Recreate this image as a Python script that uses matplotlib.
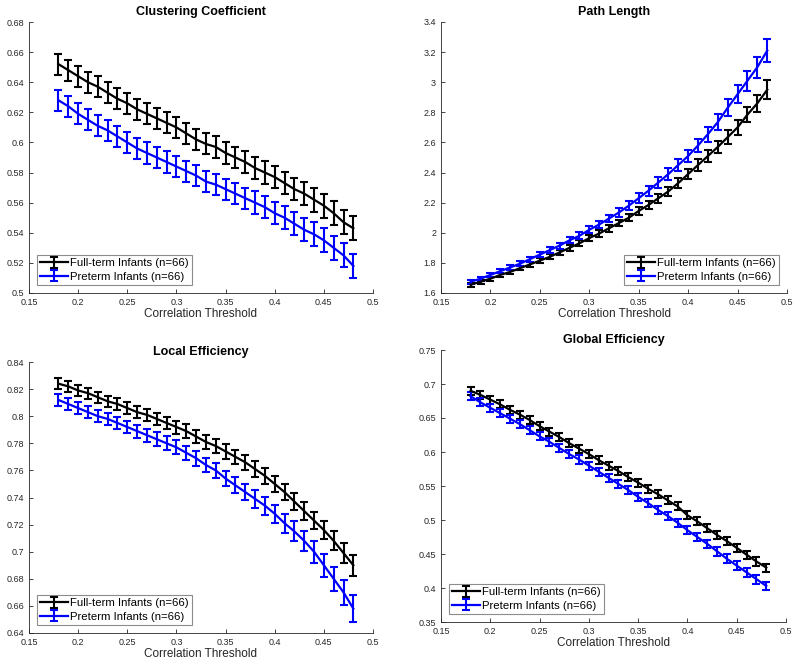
#!/usr/bin/env python3

import matplotlib
matplotlib.use("Agg")
import matplotlib.pyplot as plt
from matplotlib.ticker import FormatStrFormatter, MultipleLocator

plt.rcParams["font.family"] = ["Liberation Sans", "DejaVu Sans"]

thresholds = [round(0.18 + 0.01 * i, 2) for i in range(31)]

labels = ["Full-term Infants (n=66)", "Preterm Infants (n=66)"]

clust_full = [0.652, 0.648, 0.644, 0.640, 0.637, 0.633, 0.629, 0.626, 0.622, 0.619,
              0.616, 0.613, 0.610, 0.606, 0.602, 0.599, 0.597, 0.593, 0.590, 0.587,
              0.583, 0.580, 0.577, 0.573, 0.569, 0.566, 0.562, 0.558, 0.553, 0.547, 0.543]
clust_full_err = [0.007] * 20 + [0.0075] * 6 + [0.008] * 5
clust_pre = [0.628, 0.624, 0.619, 0.615, 0.611, 0.608, 0.604, 0.600, 0.596, 0.593,
             0.590, 0.587, 0.584, 0.581, 0.578, 0.574, 0.572, 0.569, 0.566, 0.563,
             0.560, 0.557, 0.553, 0.550, 0.546, 0.542, 0.539, 0.535, 0.530, 0.525, 0.518]
clust_pre_err = [0.007] * 20 + [0.0075] * 6 + [0.008] * 5

path_full = [1.655, 1.675, 1.695, 1.72, 1.74, 1.765, 1.79, 1.815, 1.84, 1.87,
             1.90, 1.93, 1.965, 1.995, 2.03, 2.065, 2.10, 2.145, 2.185, 2.23,
             2.275, 2.33, 2.39, 2.45, 2.51, 2.57, 2.635, 2.70, 2.785, 2.86, 2.95]
path_full_err = [0.012, 0.012, 0.013, 0.013, 0.014, 0.014, 0.015, 0.015, 0.016, 0.017,
                 0.018, 0.019, 0.02, 0.021, 0.022, 0.023, 0.024, 0.026, 0.027, 0.029,
                 0.031, 0.033, 0.035, 0.037, 0.04, 0.042, 0.045, 0.048, 0.052, 0.056, 0.062]
path_pre = [1.675, 1.695, 1.72, 1.745, 1.77, 1.795, 1.825, 1.855, 1.885, 1.915,
            1.95, 1.98, 2.02, 2.055, 2.095, 2.135, 2.18, 2.23, 2.28, 2.335,
            2.39, 2.45, 2.51, 2.58, 2.655, 2.735, 2.83, 2.92, 3.01, 3.10, 3.21]
path_pre_err = [0.014, 0.014, 0.015, 0.015, 0.016, 0.017, 0.017, 0.018, 0.019, 0.02,
                0.021, 0.022, 0.024, 0.025, 0.026, 0.028, 0.03, 0.032, 0.034, 0.036,
                0.038, 0.04, 0.043, 0.046, 0.049, 0.053, 0.057, 0.061, 0.065, 0.07, 0.076]

loc_full = [0.824, 0.822, 0.819, 0.817, 0.814, 0.811, 0.809, 0.806, 0.803, 0.801,
            0.798, 0.795, 0.792, 0.789, 0.785, 0.781, 0.778, 0.774, 0.770, 0.766,
            0.761, 0.756, 0.750, 0.744, 0.737, 0.730, 0.723, 0.716, 0.708, 0.699, 0.690]
loc_full_err = [0.004, 0.004, 0.004, 0.004, 0.004, 0.004, 0.0042, 0.0043, 0.0044, 0.0045,
                0.0046, 0.0047, 0.0048, 0.0049, 0.005, 0.0051, 0.0052, 0.0053, 0.0054, 0.0055,
                0.0056, 0.0057, 0.0058, 0.006, 0.0062, 0.0064, 0.0066, 0.0068, 0.007, 0.0073, 0.0078]
loc_pre = [0.812, 0.809, 0.806, 0.803, 0.800, 0.798, 0.795, 0.792, 0.789, 0.786,
           0.783, 0.780, 0.777, 0.773, 0.769, 0.764, 0.760, 0.754, 0.749, 0.744,
           0.739, 0.734, 0.728, 0.721, 0.715, 0.708, 0.700, 0.690, 0.680, 0.670, 0.658]
loc_pre_err = [0.0042, 0.0042, 0.0043, 0.0043, 0.0044, 0.0045, 0.0046, 0.0047, 0.0048, 0.0049,
               0.005, 0.0051, 0.0052, 0.0053, 0.0054, 0.0055, 0.0056, 0.0058, 0.006, 0.0062,
               0.0064, 0.0066, 0.0068, 0.007, 0.0073, 0.0076, 0.008, 0.0084, 0.0088, 0.0094, 0.01]

glob_full = [0.690, 0.684, 0.677, 0.670, 0.662, 0.655, 0.647, 0.638, 0.630, 0.622,
             0.613, 0.605, 0.597, 0.588, 0.580, 0.572, 0.563, 0.555, 0.546, 0.538,
             0.529, 0.520, 0.507, 0.498, 0.488, 0.478, 0.469, 0.459, 0.449, 0.439, 0.430]
glob_full_err = [0.006] * 31
glob_pre = [0.682, 0.673, 0.665, 0.657, 0.649, 0.641, 0.632, 0.623, 0.615, 0.606,
            0.597, 0.589, 0.580, 0.571, 0.562, 0.553, 0.544, 0.534, 0.525, 0.515,
            0.506, 0.496, 0.485, 0.475, 0.465, 0.454, 0.443, 0.433, 0.423, 0.413, 0.403]
glob_pre_err = [0.006] * 25 + [0.0065] * 6


def panel(fig, rect, title, full, full_err, pre, pre_err, ylim, ystep, legend_loc):
    ax = fig.add_axes(rect)
    ax.errorbar(thresholds, full, yerr=full_err, color="black", lw=1.6,
                elinewidth=1.5, capsize=2.8, capthick=1.5, label=labels[0])
    ax.errorbar(thresholds, pre, yerr=pre_err, color="#0000ff", lw=1.6,
                elinewidth=1.5, capsize=2.8, capthick=1.5, label=labels[1])
    ax.set_xlim(0.15, 0.5)
    ax.set_ylim(*ylim)
    ax.xaxis.set_major_locator(MultipleLocator(0.05))
    ax.yaxis.set_major_locator(MultipleLocator(ystep))
    ax.xaxis.set_major_formatter(FormatStrFormatter("%g"))
    ax.yaxis.set_major_formatter(FormatStrFormatter("%g"))
    ax.tick_params(direction="in", length=3, labelsize=6.5, colors="#262626", width=0.6)
    for s in ("top", "right"):
        ax.spines[s].set_visible(False)
    for s in ("left", "bottom"):
        ax.spines[s].set_color("#262626")
        ax.spines[s].set_linewidth(0.6)
    ax.set_title(title, fontsize=9, fontweight="bold", pad=5)
    ax.set_xlabel("Correlation Threshold", fontsize=8.5, color="#262626", labelpad=1)
    leg = ax.legend(loc=legend_loc, fontsize=8.2, fancybox=False, framealpha=1,
                    handlelength=2.4, handletextpad=0.2, borderpad=0.3,
                    labelspacing=0.3, borderaxespad=0.7)
    leg.get_frame().set_edgecolor("#8c8c8c")
    leg.get_frame().set_linewidth(0.8)
    return ax


def main():
    fig = plt.figure(figsize=(8, 6.65), dpi=100)
    W, H = 800.0, 665.0

    def r(x0, y0, x1, y1):
        return [x0 / W, 1 - y1 / H, (x1 - x0) / W, (y1 - y0) / H]

    panel(fig, r(29, 22, 373, 293), "Clustering Coefficient",
          clust_full, clust_full_err, clust_pre, clust_pre_err, (0.5, 0.68), 0.02, "lower left")
    panel(fig, r(441, 22, 787, 293), "Path Length",
          path_full, path_full_err, path_pre, path_pre_err, (1.6, 3.4), 0.2, "lower right")
    panel(fig, r(29, 362, 373, 633), "Local Efficiency",
          loc_full, loc_full_err, loc_pre, loc_pre_err, (0.64, 0.84), 0.02, "lower left")
    panel(fig, r(441, 350, 786, 622), "Global Efficiency",
          glob_full, glob_full_err, glob_pre, glob_pre_err, (0.35, 0.75), 0.05, "lower left")

    fig.savefig("out.png", dpi=100)


if __name__ == "__main__":
    main()
